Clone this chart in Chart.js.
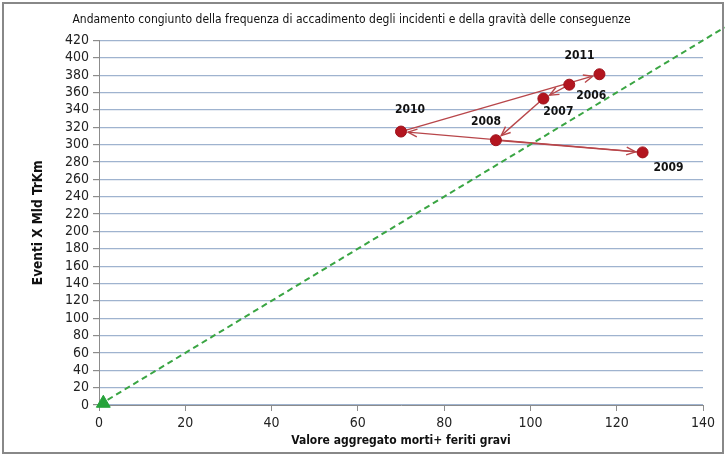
<!DOCTYPE html>
<html>
<head>
<meta charset="utf-8">
<script src="https://cdn.jsdelivr.net/npm/chart.js@4"></script>
<style>
html,body{margin:0;padding:0;background:#fff;}
#wrap{width:727px;height:456px;}
</style>
</head>
<body>
<div id="wrap"><canvas id="c" width="727" height="456"></canvas></div>
<script>
const years = ['2006','2007','2008','2009','2010','2011'];
const gravita = [109, 103, 92, 126, 70, 116];
const eventi = [369, 353, 305, 291, 315, 381];
const refLineX = [0, 145];
const refLineY = [0, 435];
const originX = [1];
const originY = [2];
const xTicks = [0, 20, 40, 60, 80, 100, 120, 140];
const yTicks = [0,20,40,60,80,100,120,140,160,180,200,220,240,260,280,300,320,340,360,380,400,420];
const labelOffsets = {'2006':[22,11],'2007':[15,13],'2008':[-10,-18],'2009':[26,15],'2010':[9,-22],'2011':[-20,-18]};

const FONT = "'Liberation Sans Narrow','DejaVu Sans Condensed','Liberation Sans',sans-serif";

const arrowsPlugin = {
  id: 'arrows',
  beforeDatasetsDraw(chart) {
    const ctx = chart.ctx, xs = chart.scales.x, ys = chart.scales.y;
    ctx.save();
    ctx.strokeStyle = '#b8464a';
    ctx.lineWidth = 1.4;
    for (let i = 0; i < years.length - 1; i++) {
      const x1 = xs.getPixelForValue(gravita[i]), y1 = ys.getPixelForValue(eventi[i]);
      const x2 = xs.getPixelForValue(gravita[i+1]), y2 = ys.getPixelForValue(eventi[i+1]);
      const a = Math.atan2(y2 - y1, x2 - x1);
      const ex = x2 - Math.cos(a) * 7, ey = y2 - Math.sin(a) * 7;
      ctx.beginPath(); ctx.moveTo(x1, y1); ctx.lineTo(ex, ey); ctx.stroke();
      const L = 10, w = 0.4;
      ctx.beginPath();
      ctx.moveTo(ex - L*Math.cos(a - w), ey - L*Math.sin(a - w));
      ctx.lineTo(ex, ey);
      ctx.lineTo(ex - L*Math.cos(a + w), ey - L*Math.sin(a + w));
      ctx.stroke();
    }
    ctx.restore();
  },
  afterDatasetsDraw(chart) {
    const ctx = chart.ctx, xs = chart.scales.x, ys = chart.scales.y;
    ctx.save();
    ctx.font = "bold 12px 'DejaVu Sans Condensed','DejaVu Sans',sans-serif";
    ctx.fillStyle = '#111';
    ctx.textAlign = 'center'; ctx.textBaseline = 'middle';
    years.forEach((yr, i) => {
      const o = labelOffsets[yr];
      ctx.fillText(yr, xs.getPixelForValue(gravita[i]) + o[0], ys.getPixelForValue(eventi[i]) + o[1]);
    });
    ctx.restore();
  },
  afterDraw(chart) {
    const ctx = chart.ctx;
    ctx.save();
    ctx.strokeStyle = '#888';
    ctx.lineWidth = 2;
    ctx.strokeRect(3, 3, 720, 450);
    ctx.restore();
  }
};

new Chart(document.getElementById('c'), {
  type: 'scatter',
  data: {
    datasets: [
      {
        label: 'Riferimento',
        data: refLineX.map((x, i) => ({x, y: refLineY[i]})),
        showLine: true,
        borderColor: '#3aa543',
        borderWidth: 2,
        borderDash: [6, 4],
        pointRadius: 0,
        clip: false,
        order: 3
      },
      {
        label: 'Origine',
        data: originX.map((x, i) => ({x, y: originY[i]})),
        pointStyle: 'triangle',
        pointRadius: 8,
        backgroundColor: '#25a23a',
        borderColor: '#25a23a',
        clip: false,
        order: 2
      },
      {
        label: 'Anni',
        data: gravita.map((x, i) => ({x, y: eventi[i]})),
        pointRadius: 5.5,
        backgroundColor: '#b3151f',
        borderColor: '#9e121b',
        borderWidth: 1,
        order: 1
      }
    ]
  },
  options: {
    responsive: false,
    animation: false,
    layout: { padding: { left: 0, right: 24, top: 0, bottom: 0 } },
    plugins: {
      legend: { display: false },
      tooltip: { enabled: false },
      title: {
        display: true,
        text: 'Andamento congiunto della frequenza di accadimento degli incidenti e della gravità delle conseguenze',
        font: { family: FONT, size: 12, weight: 'normal' },
        color: '#111',
        padding: { top: 13, bottom: 13 }
      }
    },
    scales: {
      x: {
        type: 'linear', min: 0, max: 140,
        afterBuildTicks(s) { s.ticks = xTicks.map(v => ({value: v})); },
        afterFit(s) { s.height = 51; },
        grid: { drawOnChartArea: false, drawTicks: true, tickLength: 6, color: '#8c8c8c' },
        border: { color: '#8c8c8c', width: 1 },
        ticks: { font: { family: FONT, size: 14 }, color: '#222', padding: 4, autoSkip: false, maxRotation: 0 },
        title: { display: true, text: 'Valore aggregato morti+ feriti gravi', font: { family: FONT, size: 12, weight: 'bold' }, color: '#111', padding: { top: 0, bottom: 8 } }
      },
      y: {
        type: 'linear', min: 0, max: 420,
        afterBuildTicks(s) { s.ticks = yTicks.map(v => ({value: v})); },
        afterFit(s) { s.width = 99; },
        grid: { color: '#9fb3cf', lineWidth: 1.2, tickLength: 6, tickColor: '#8c8c8c' },
        border: { color: '#8c8c8c', width: 1 },
        ticks: { font: { family: FONT, size: 14 }, color: '#222', padding: 4, autoSkip: false },
        title: { display: true, text: 'Eventi X Mld TrKm', font: { family: FONT, size: 13.5, weight: 'bold' }, color: '#111', padding: { top: 30, bottom: 0 } }
      }
    }
  },
  plugins: [arrowsPlugin]
});
</script>
</body>
</html>
